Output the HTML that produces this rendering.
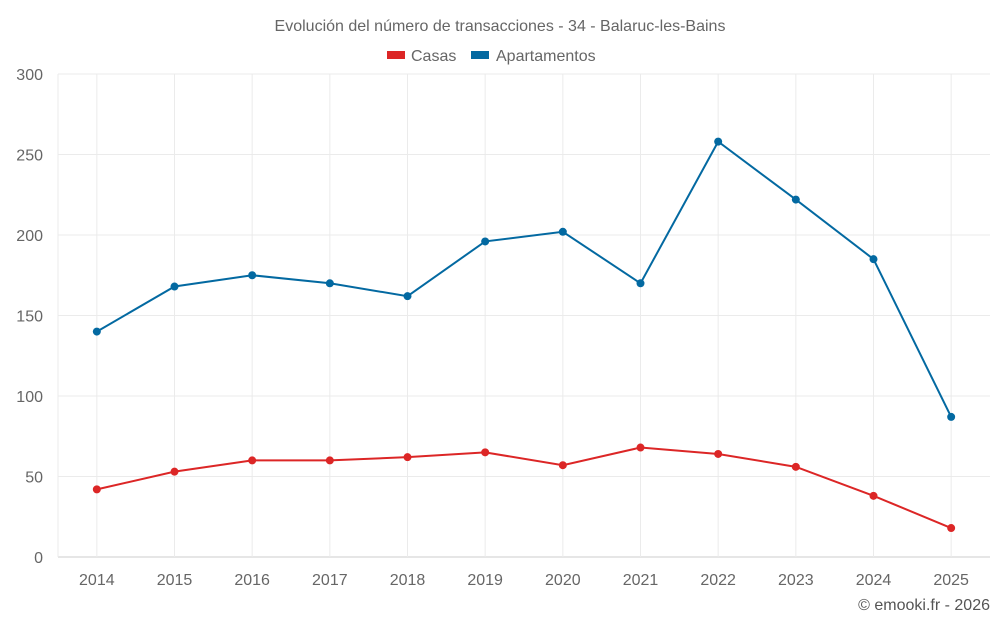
<!DOCTYPE html>
<html><head><meta charset="utf-8"><style>
body{margin:0;background:#fff;font-family:"Liberation Sans",sans-serif}
svg text{font-family:"Liberation Sans",sans-serif}
</style></head><body>
<svg id="c" width="1000" height="625">
<text x="500" y="31" text-anchor="middle" font-size="16" fill="#666">Evolución del número de transacciones - 34 - Balaruc-les-Bains</text>
<g>
<g><rect x="387" y="51" width="18" height="8" fill="#dc2626"/><text x="411" y="61" font-size="16" fill="#666">Casas</text></g>
<g><rect x="471" y="51" width="18" height="8" fill="#0369a1"/><text x="496" y="61" font-size="16" fill="#666">Apartamentos</text></g>
</g>
<g id="grid"></g><g id="axes"></g><g id="series"></g>
<text x="990" y="610" text-anchor="end" font-size="16" fill="#555">© emooki.fr - 2026</text>
</svg>
<script>
const years=["2014","2015","2016","2017","2018","2019","2020","2021","2022","2023","2024","2025"];
const casas=[42,53,60,60,62,65,57,68,64,56,38,18];
const apartamentos=[140,168,175,170,162,196,202,170,258,222,185,87];
const yTicks=[0,50,100,150,200,250,300];
const NS="http://www.w3.org/2000/svg";
const L=58,R=990,T=74,B=557,yMax=300;
const step=(R-L)/years.length;
const xs=i=>L+step*(i+0.5);
const ys=v=>B-(v/yMax)*(B-T);
function mk(t,a,p){const e=document.createElementNS(NS,t);for(const k in a)e.setAttribute(k,a[k]);p.appendChild(e);return e;}
const g=document.getElementById('grid'),ax=document.getElementById('axes'),s=document.getElementById('series');
yTicks.forEach(v=>{
 const l=mk('line',{x1:L,x2:R,y1:ys(v),y2:ys(v),stroke:v===0?'#ccc':'#ebebeb'},g);
 
 
 const t=mk('text',{x:L-15,y:ys(v)+6,'text-anchor':'end','font-size':16,fill:'#666'},ax);
 t.textContent=v;
 
 
});
mk('line',{x1:L,x2:L,y1:T,y2:B,stroke:'#ebebeb'},g);
years.forEach((y,i)=>{
 const l=mk('line',{x1:xs(i),x2:xs(i),y1:T,y2:B,stroke:'#ebebeb'},g);
 
 
 const t=mk('text',{x:xs(i),y:585,'text-anchor':'middle','font-size':16,fill:'#666'},ax);
 t.textContent=y;
 
 
});
function series(data,color,name){
 const p=mk('polyline',{points:data.map((v,i)=>xs(i)+','+ys(v)).join(' '),fill:'none',stroke:color,'stroke-width':2},s);
 
 
 data.forEach((v,i)=>{
  const c=mk('circle',{cx:xs(i),cy:ys(v),r:4,fill:color},s);
  
  
 });
}
series(apartamentos,'#0369a1','apartamentos');
series(casas,'#dc2626','casas');
</script>
</body></html>
